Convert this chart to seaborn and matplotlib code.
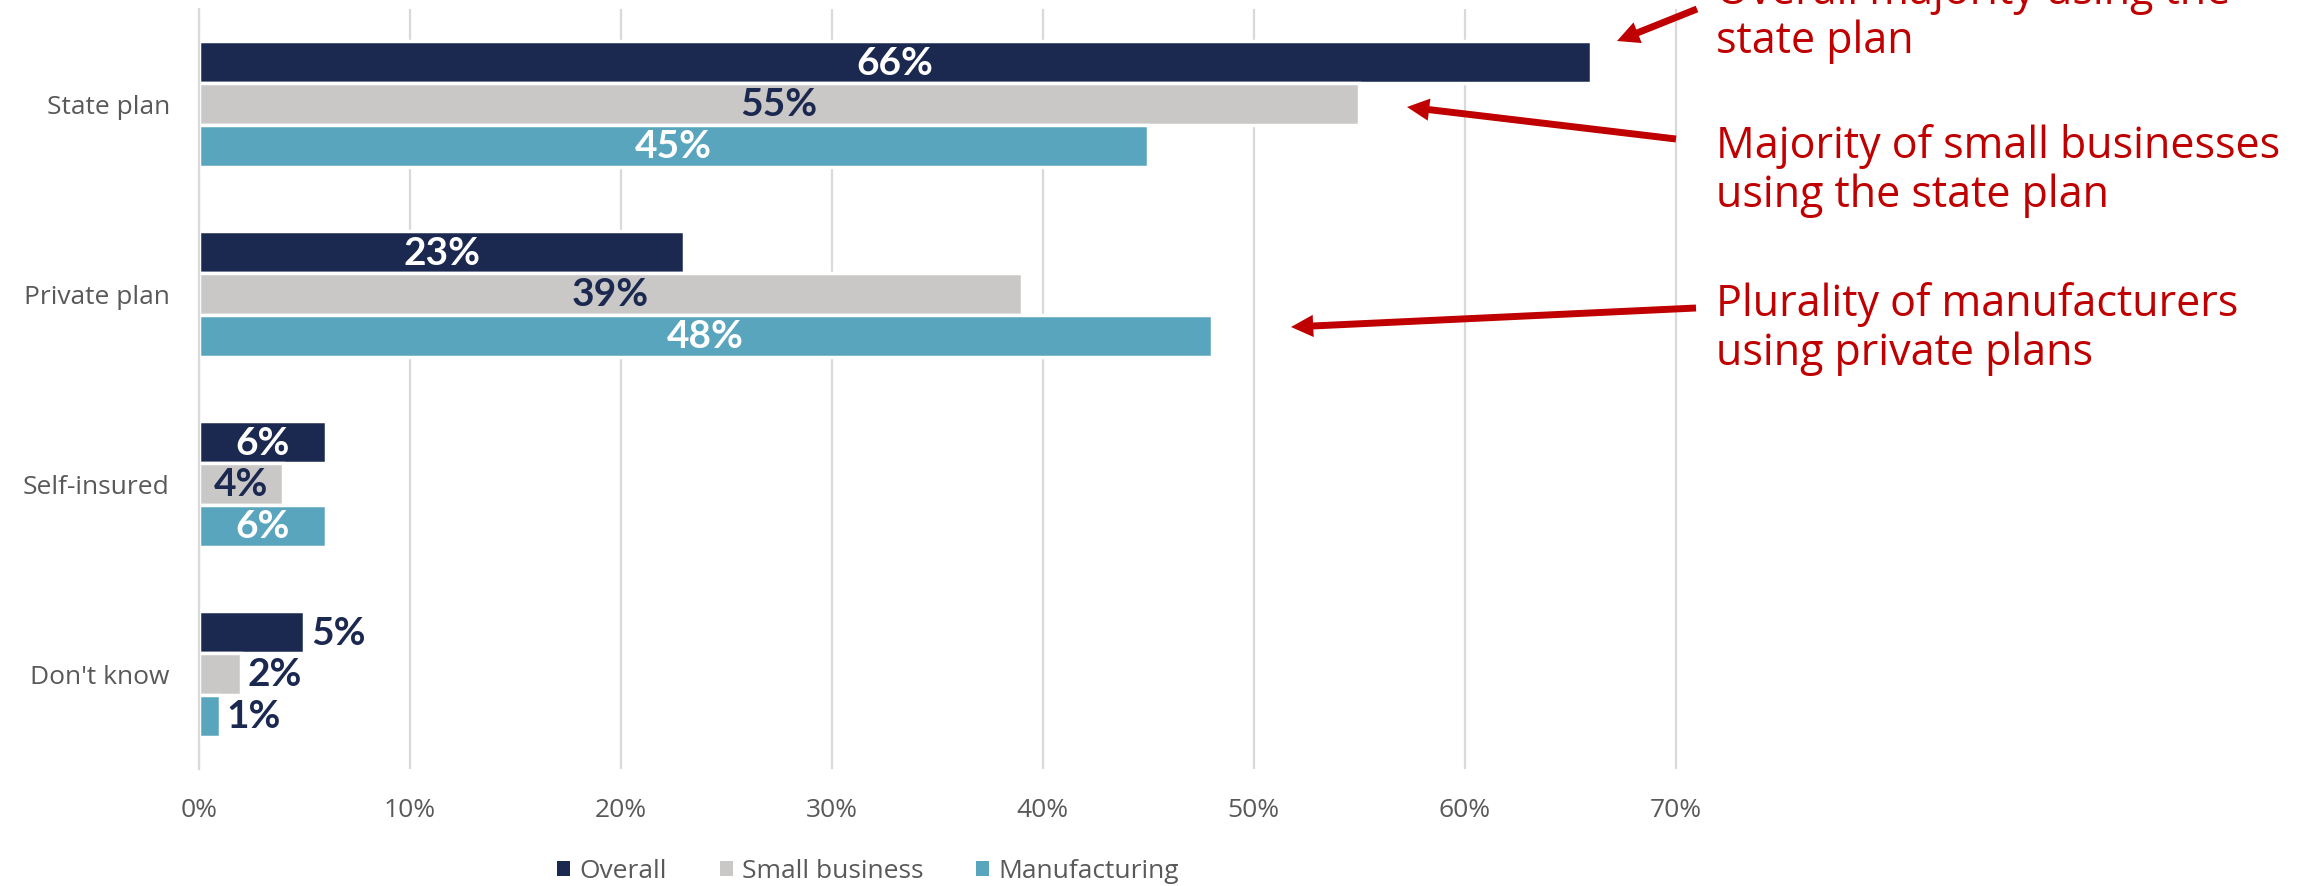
import numpy as np
import pandas as pd
import matplotlib
matplotlib.use("Agg")
import matplotlib.pyplot as plt
from matplotlib.patches import Patch
import seaborn as sns

# ---------------- data ----------------
categories = ["State plan", "Private plan", "Self-insured", "Don't know"]
series = ["Overall", "Small business", "Manufacturing"]
overall = [66, 23, 6, 5]
small_business = [55, 39, 4, 2]
manufacturing = [45, 48, 6, 1]
x_ticks = [0, 10, 20, 30, 40, 50, 60, 70]
x_tick_labels = ["0%", "10%", "20%", "30%", "40%", "50%", "60%", "70%"]
notes = [
    "Overall majority using the\nstate plan",
    "Majority of small businesses\nusing the state plan",
    "Plurality of manufacturers\nusing private plans",
]

# ---------------- styles ----------------
NAVY = "#1B2850"
GRAY = "#C9C8C6"
TEAL = "#59A5BD"
RED = "#C00000"
GRID = "#D9D9D9"
TXT = "#595959"
colors = [NAVY, GRAY, TEAL]
label_colors = ["white", NAVY, "white"]
label_outside = [False, False, False, True]

values = [overall, small_business, manufacturing]
df = pd.DataFrame({
    "category": categories * len(series),
    "series": [s for s in series for _ in categories],
    "value": overall + small_business + manufacturing,
})

sns.set_theme(style="white")
plt.rcParams["font.family"] = ["Open Sans", "DejaVu Sans"]

W, H = 2305, 887
fig = plt.figure(figsize=(W / 100, H / 100), dpi=100)
ax = fig.add_axes([199 / W, 1 - 770 / H, (1680 - 199) / W, 760 / H])

sns.barplot(data=df, y="category", x="value", hue="series", order=categories,
            hue_order=series, palette=colors, width=0.663, edgecolor="white",
            linewidth=2.5, orient="h", legend=False, ax=ax, saturation=1)

ax.set_xlim(0, 70.2)
ax.set_ylim(3.5, -0.5)
ax.set_xticks(x_ticks)
ax.set_xticklabels(x_tick_labels)
ax.set_axisbelow(True)
ax.xaxis.grid(True, color=GRID, linewidth=1.6)
ax.yaxis.grid(False)
ax.set_xlabel("")
ax.set_ylabel("")

for s in ["top", "right", "bottom"]:
    ax.spines[s].set_visible(False)
ax.spines["left"].set_color(GRID)
ax.spines["left"].set_linewidth(1.6)

ax.set_yticks(range(len(categories)))
ax.set_yticklabels(categories)
ax.set_yticks(np.arange(-0.5, len(categories), 1.0), minor=True)
ax.tick_params(axis="y", which="major", length=0, pad=21, labelsize=19, labelcolor=TXT)
ax.tick_params(axis="y", which="minor", length=7, width=1.6, color=GRID)
ax.tick_params(axis="x", which="major", length=0, pad=20, labelsize=19, labelcolor=TXT)

# value labels
for i, cont in enumerate(ax.containers):
    for j, bar in enumerate(cont):
        v = values[i][j]
        yc = bar.get_y() + bar.get_height() / 2
        if label_outside[j]:
            ax.text(v + 0.3, yc, f"{v}%", ha="left", va="center", fontsize=28,
                    fontweight="bold", family=["Lato", "DejaVu Sans"], color=NAVY)
        else:
            ax.text(v / 2, yc, f"{v}%", ha="center", va="center", fontsize=28,
                    fontweight="bold", family=["Lato", "DejaVu Sans"], color=label_colors[i])

# legend
handles = [Patch(facecolor=c, edgecolor="none") for c in colors]
leg = fig.legend(handles, series, loc="center", bbox_to_anchor=(868 / W, 1 - 872 / H),
                 ncol=3, frameon=False, fontsize=19, handlelength=0.5, handleheight=0.5,
                 handletextpad=0.35, columnspacing=2.0)
for t in leg.get_texts():
    t.set_color(TXT)

# annotations
note_y = [17, 171, 329]
for txt, yy in zip(notes, note_y):
    fig.text(1716 / W, 1 - yy / H, txt, color=RED, fontsize=31, ha="left", va="center",
             linespacing=1.12)

arrows = [((1697, 10), (1617, 42)), ((1676, 140), (1407, 108)), ((1696, 309), (1291, 328))]
for (tx, ty), (hx, hy) in arrows:
    ax.annotate("", xy=(hx, H - hy), xytext=(tx, H - ty), xycoords="figure pixels",
                textcoords="figure pixels", annotation_clip=False,
                arrowprops=dict(arrowstyle="simple,head_length=16,head_width=16,tail_width=5",
                                mutation_scale=1, color=RED, lw=0, shrinkA=0, shrinkB=0))

fig.savefig("out.png", dpi=100)
